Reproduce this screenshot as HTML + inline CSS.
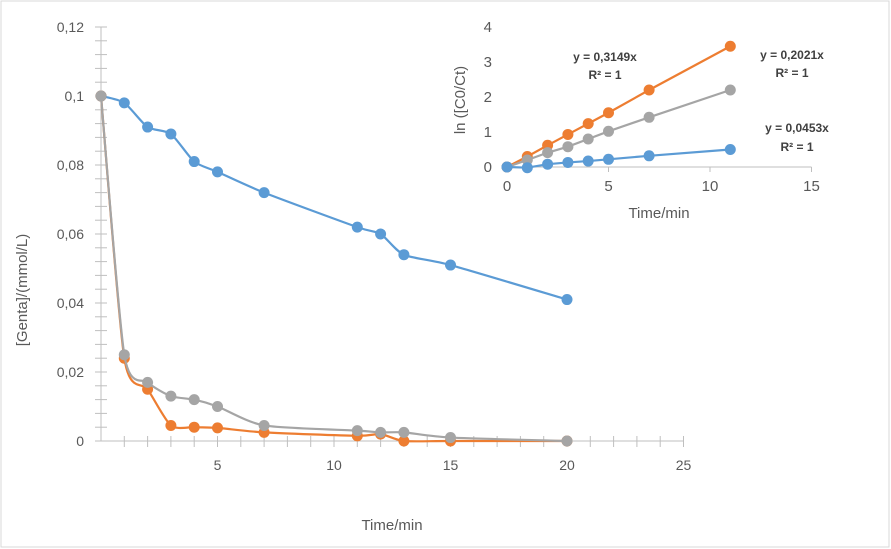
<!DOCTYPE html>
<html><head><meta charset="utf-8"><style>
html,body{margin:0;padding:0;background:#fff}
svg{display:block;font-family:"Liberation Sans",sans-serif}
</style></head><body>
<svg id="chart" width="891" height="549" viewBox="0 0 891 549">
<rect x="1" y="1" width="888" height="546" fill="#fff" stroke="#d9d9d9"/>
<g id="main"></g>
<g id="inset"></g>
<text x="392" y="530" font-size="15" fill="#595959" text-anchor="middle">Time/min</text>
<text transform="translate(27,290) rotate(-90)" font-size="15" fill="#595959" text-anchor="middle">[Genta]/(mmol/L)</text>
<text x="659" y="218" font-size="15" fill="#595959" text-anchor="middle">Time/min</text>
<text transform="translate(465,100) rotate(-90)" font-size="15" fill="#595959" text-anchor="middle">ln ([C0/Ct)</text>
<g font-size="12" font-weight="bold" fill="#404040" text-anchor="middle">
<text x="605" y="61">y = 0,3149x</text>
<text x="605" y="79">R² = 1</text>
<text x="792" y="59">y = 0,2021x</text>
<text x="792" y="77">R² = 1</text>
<text x="797" y="132">y = 0,0453x</text>
<text x="797" y="151">R² = 1</text>
</g>
</svg>
<script>
const mainT=[0,1,2,3,4,5,7,11,12,13,15,20];
const mainBlue=[0.1,0.098,0.091,0.089,0.081,0.078,0.072,0.062,0.060,0.054,0.051,0.041];
const mainOrange=[0.1,0.024,0.015,0.0045,0.004,0.0038,0.0025,0.0015,0.002,0,0,0];
const mainGray=[0.1,0.025,0.017,0.013,0.012,0.010,0.0045,0.003,0.0025,0.0025,0.001,0];
const mainXTicks=[5,10,15,20,25];
const mainYTicks=["0","0,02","0,04","0,06","0,08","0,1","0,12"];
const insetT=[0,1,2,3,4,5,7,11];
const insetOrange=[0,0.3,0.62,0.93,1.24,1.55,2.2,3.45];
const insetGray=[0,0.2,0.41,0.58,0.8,1.02,1.42,2.2];
const insetBlue=[0,-0.02,0.08,0.13,0.17,0.22,0.32,0.5];
const insetXTicks=[0,5,10,15];
const insetYTicks=[0,1,2,3,4];

const NS="http://www.w3.org/2000/svg";
function mk(p,tag,a){const e=document.createElementNS(NS,tag);for(const k in a)e.setAttribute(k,a[k]);p.appendChild(e);return e;}
const BLUE="#5b9bd5",OR="#ed7d31",GR="#a5a5a5",AX="#bfbfbf",TX="#595959";

const main=document.getElementById('main');
const mx=t=>101+t*23.3, my=v=>441-v/0.02*69;
let l=mk(main,'line',{x1:101,y1:my(0.12),x2:101,y2:my(0),stroke:AX});


l=mk(main,'line',{x1:101,y1:my(0),x2:mx(25),y2:my(0),stroke:AX});


for(let i=0;i<=30;i++){const y=my(i*0.004);mk(main,'line',{x1:95,y1:y,x2:107,y2:y,stroke:AX});}
for(let i=1;i<=25;i++){const x=mx(i);mk(main,'line',{x1:x,y1:my(0)-5,x2:x,y2:my(0)+6,stroke:AX});}
mainYTicks.forEach((s,i)=>{const e=mk(main,'text',{x:84,y:my(i*0.02)+5,'font-size':14,fill:TX,'text-anchor':'end'});e.textContent=s;

});
mainXTicks.forEach(t=>{const e=mk(main,'text',{x:mx(t),y:470,'font-size':14,fill:TX,'text-anchor':'middle'});e.textContent=t;

});
function smooth(pts){let d=`M${pts[0][0]},${pts[0][1]}`;for(let i=0;i<pts.length-1;i++){const p0=pts[Math.max(0,i-1)],p1=pts[i],p2=pts[i+1],p3=pts[Math.min(pts.length-1,i+2)];const k=0.12;
d+=` C${p1[0]+(p2[0]-p0[0])*k},${p1[1]+(p2[1]-p0[1])*k} ${p2[0]-(p3[0]-p1[0])*k},${p2[1]-(p3[1]-p1[1])*k} ${p2[0]},${p2[1]}`;}return d;}
function series(g,T,V,fx,fy,col,name,sm,r){const pts=T.map((t,i)=>[fx(t),fy(V[i])]);
const p=mk(g,'path',{d:sm?smooth(pts):'M'+pts.map(q=>q.join(',')).join(' L'),fill:'none',stroke:col,'stroke-width':2.2});


pts.forEach(q=>{const c=mk(g,'circle',{cx:q[0],cy:q[1],r:r,fill:col});

});}
series(main,mainT,mainBlue,mx,my,BLUE,'blue-series',true,5.5);
series(main,mainT,mainOrange,mx,my,OR,'orange-series',true,5.5);
series(main,mainT,mainGray,mx,my,GR,'gray-series',true,5.5);

const ins=document.getElementById('inset');
const ix=t=>507+t*20.3, iy=v=>167-v*35;
l=mk(ins,'line',{x1:ix(0),y1:iy(0),x2:ix(15),y2:iy(0),stroke:AX});


insetXTicks.forEach(t=>{mk(ins,'line',{x1:ix(t),y1:iy(0),x2:ix(t),y2:iy(0)+5,stroke:AX});
const e=mk(ins,'text',{x:ix(t),y:iy(0)+24,'font-size':15,fill:TX,'text-anchor':'middle'});e.textContent=t;

});
insetYTicks.forEach(v=>{const e=mk(ins,'text',{x:492,y:iy(v)+5,'font-size':15,fill:TX,'text-anchor':'end'});e.textContent=v;

});
series(ins,insetT,insetOrange,ix,iy,OR,'inset-orange-series',false,5.5);
series(ins,insetT,insetGray,ix,iy,GR,'inset-gray-series',false,5.5);
series(ins,insetT,insetBlue,ix,iy,BLUE,'inset-blue-series',false,5.5);
</script>
</body></html>
